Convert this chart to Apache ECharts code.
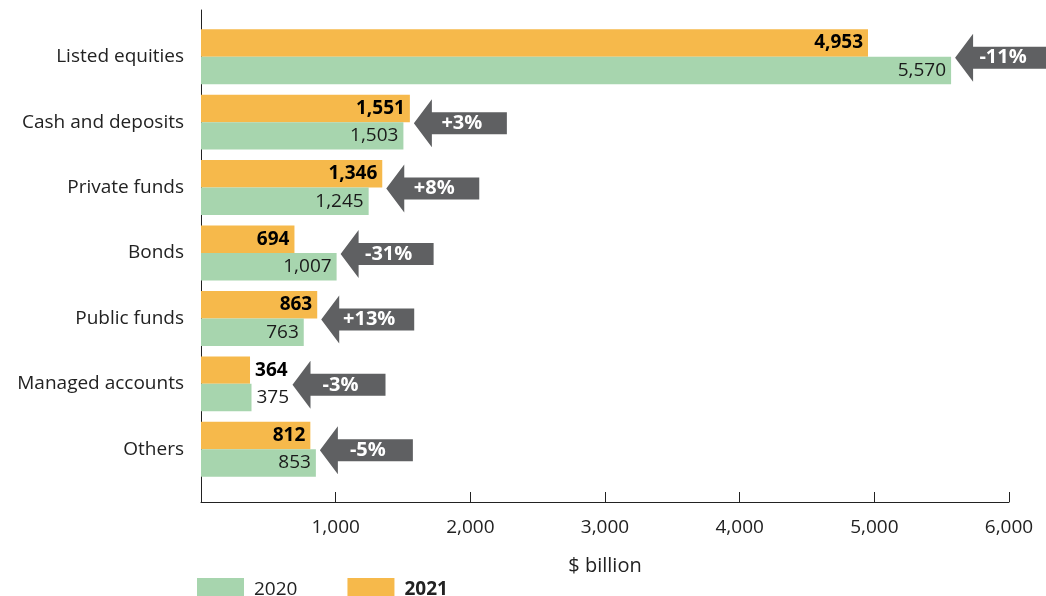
<!DOCTYPE html>
<html>
<head>
<meta charset="utf-8">
<title>Assets by type</title>
<script src="https://cdn.jsdelivr.net/npm/echarts@6/dist/echarts.min.js"></script>
<style>
    html, body {margin: 0; padding: 0; background: #fff;}
    #assetChart {width: 1046px; height: 596px;}
</style>
</head>
<body>
<div id="assetChart"></div>
<script>
// 数据
var categories = ['Listed equities', 'Cash and deposits', 'Private funds', 'Bonds', 'Public funds', 'Managed accounts', 'Others'];
var values2020 = [5570, 1503, 1245, 1007, 763, 375, 853];
var values2021 = [4953, 1551, 1346, 694, 863, 364, 812];
var changeLabels = ['-11%', '+3%', '+8%', '-31%', '+13%', '-3%', '-5%'];
var xTicks = [0, 1000, 2000, 3000, 4000, 5000, 6000];

var FONT = '"Open Sans", "Noto Sans", sans-serif';
var SHORT = 500; // 柱子太短时标签放在外侧

window.onload = function () {
    assetChart();
};

/**
 * 柱状标签位置
 */
function labelPos(v) {
    return v < SHORT ? 'right' : 'insideRight';
}

/**
 * 箭头(自定义系列)
 */
function renderArrow(params, api) {
    var idx = params.dataIndex;
    var cy = api.coord([0, idx])[1] + 1;
    var end = 0;
    [values2020[idx], values2021[idx]].forEach(function (v) {
        var x = api.coord([v, idx])[0];
        if (v < SHORT) {
            x += 4 + echarts.format.addCommas(v).length * 11;
        }
        end = Math.max(end, x);
    });
    var tx = end + 4;
    return {
        type: 'group',
        children: [
            {
                type: 'polygon',
                shape: {
                    points: [
                        [tx, cy], [tx + 18, cy - 24], [tx + 18, cy - 11],
                        [tx + 93, cy - 11], [tx + 93, cy + 11],
                        [tx + 18, cy + 11], [tx + 18, cy + 24]
                    ]
                },
                style: {fill: '#5f6062'}
            },
            {
                type: 'text',
                style: {
                    x: tx + 48, y: cy,
                    text: changeLabels[idx],
                    fill: '#fff',
                    font: 'bold 20px ' + FONT,
                    align: 'center',
                    verticalAlign: 'middle'
                }
            }
        ]
    };
}

/**
 * 资产类别图表
 */
function assetChart() {
    var myChart = echarts.init(document.getElementById('assetChart'));
    var option = {
        animation: false,
        textStyle: {fontFamily: FONT},
        legend: {
            left: 197, top: 578, padding: 0,
            itemWidth: 47, itemHeight: 24, itemGap: 50,
            icon: 'rect',
            data: [
                {name: '2020', textStyle: {fontWeight: 'normal'}},
                {name: '2021', textStyle: {fontWeight: 'bold'}}
            ],
            textStyle: {fontSize: 19, color: '#222', fontFamily: FONT, padding: [0, 0, 0, 5]}
        },
        grid: [
            {left: 201, right: 37, top: 10, bottom: 94},
            {left: 201, right: 37, top: 24, bottom: 114}
        ],
        xAxis: [
            {
                gridIndex: 0, type: 'value',
                min: xTicks[0], max: xTicks[xTicks.length - 1], interval: 1000,
                axisLine: {show: true, lineStyle: {color: '#222', width: 1}},
                axisTick: {show: true, inside: true, length: 10, lineStyle: {color: '#222'}},
                splitLine: {show: false},
                axisLabel: {
                    fontSize: 19, color: '#222', margin: 16,
                    formatter: function (v) { return v === 0 ? '' : echarts.format.addCommas(v); }
                },
                name: '$ billion', nameLocation: 'middle', nameGap: 54,
                nameTextStyle: {fontSize: 20, color: '#222'}
            },
            {
                gridIndex: 1, type: 'value',
                min: xTicks[0], max: xTicks[xTicks.length - 1], show: false
            }
        ],
        yAxis: [
            {
                gridIndex: 0, type: 'value',
                axisLine: {show: true, lineStyle: {color: '#222', width: 1}},
                axisTick: {show: false}, axisLabel: {show: false}, splitLine: {show: false}
            },
            {
                gridIndex: 1, type: 'category', inverse: true,
                data: categories,
                axisLine: {show: false}, axisTick: {show: false},
                axisLabel: {fontSize: 19, color: '#222', margin: 17}
            }
        ],
        series: [
            {
                name: '2021', type: 'bar', xAxisIndex: 1, yAxisIndex: 1,
                barGap: '0%', barCategoryGap: '16%',
                itemStyle: {color: '#f6b94b'},
                data: values2021.map(function (v) {
                    return {value: v, label: {position: labelPos(v)}};
                }),
                label: {
                    show: true, distance: 5,
                    fontSize: 19, fontWeight: 'bold', color: '#000',
                    formatter: function (p) { return echarts.format.addCommas(p.value); }
                }
            },
            {
                name: '2020', type: 'bar', xAxisIndex: 1, yAxisIndex: 1,
                itemStyle: {color: '#a7d5ae'},
                data: values2020.map(function (v) {
                    return {value: v, label: {position: labelPos(v)}};
                }),
                label: {
                    show: true, distance: 5,
                    fontSize: 19, color: '#1a1a1a',
                    formatter: function (p) { return echarts.format.addCommas(p.value); }
                }
            },
            {
                name: 'change', type: 'custom', xAxisIndex: 1, yAxisIndex: 1,
                renderItem: renderArrow,
                encode: {x: 0, y: 1},
                clip: false, z: 5,
                data: categories.map(function (c, i) {
                    return [Math.max(values2020[i], values2021[i]), i];
                })
            }
        ]
    };
    if (option && typeof option === "object") {
        myChart.setOption(option, true);
    }
}
</script>
</body>
</html>
